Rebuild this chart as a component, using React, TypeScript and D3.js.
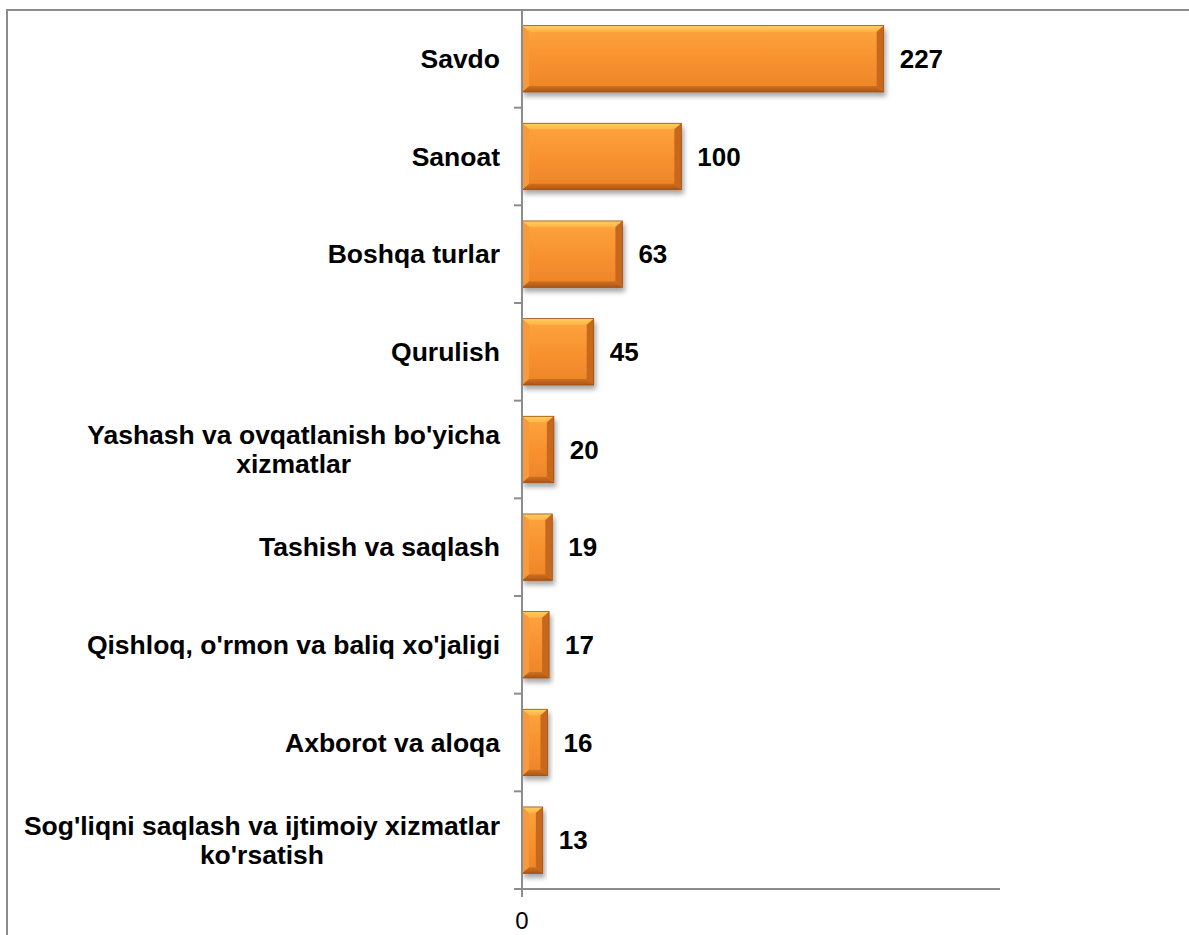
import React from "react";
import * as d3 from "d3";

const categories = [
  "Savdo",
  "Sanoat",
  "Boshqa turlar",
  "Qurulish",
  "Yashash va ovqatlanish bo'yicha|xizmatlar",
  "Tashish va saqlash",
  "Qishloq, o'rmon va baliq xo'jaligi",
  "Axborot va aloqa",
  "Sog'liqni saqlash va ijtimoiy xizmatlar|ko'rsatish",
];
const values = [227, 100, 63, 45, 20, 19, 17, 16, 13];
const xDomain = [0, 300];
const xTickLabels = [0];

const W = 1189;
const H = 935;
const left = 522;
const right = 1000;
const top = 10;
const bottom = 889;
const FONT = "Arial, 'Liberation Sans', sans-serif";
const FS = 26.5;

export default function App() {
  const x = d3.scaleLinear().domain(xDomain).range([left, right]);
  const y = d3
    .scaleBand<string>()
    .domain(categories)
    .range([top, bottom])
    .paddingInner(0.32)
    .paddingOuter(0.16);
  const step = y.step();
  const boundaries = d3.range(categories.length + 1).map((i) => top + i * step);

  return (
    <svg
      width={W}
      height={H}
      style={{ position: "absolute", left: 0, top: 0, background: "#fff" }}
      fontFamily={FONT}
    >
      <defs>
        <linearGradient id="face" x1="0" y1="0" x2="0" y2="1">
          <stop offset="0" stopColor="#FDA53F" />
          <stop offset="0.5" stopColor="#F8922F" />
          <stop offset="1" stopColor="#EC842A" />
        </linearGradient>
        <linearGradient id="topb" x1="0" y1="0" x2="0" y2="1">
          <stop offset="0" stopColor="#FFCE5E" />
          <stop offset="1" stopColor="#FFB44A" />
        </linearGradient>
        <linearGradient id="botb" x1="0" y1="0" x2="0" y2="1">
          <stop offset="0" stopColor="#D0701F" />
          <stop offset="1" stopColor="#A9561A" />
        </linearGradient>
        <filter id="shadow" x="-10%" y="-20%" width="130%" height="160%">
          <feGaussianBlur in="SourceAlpha" stdDeviation="2.5" />
          <feOffset dx="2" dy="4" result="b" />
          <feComponentTransfer>
            <feFuncA type="linear" slope="0.35" />
          </feComponentTransfer>
          <feMerge>
            <feMergeNode />
            <feMergeNode in="SourceGraphic" />
          </feMerge>
        </filter>
      </defs>

      {/* outer frame */}
      <rect x={7} y={10} width={1400} height={1200} fill="none" stroke="#8c8c8c" strokeWidth={2} />

      {/* bars */}
      {categories.map((c, i) => {
        const x0 = x(0);
        const x1 = x(values[i]);
        const y0 = y(c)!;
        const h = y.bandwidth();
        const y1 = y0 + h;
        const b = Math.min(7, (x1 - x0) / 3);
        const bv = 6;
        return (
          <g key={c} filter="url(#shadow)">
            <rect x={x0} y={y0} width={x1 - x0} height={h} fill="url(#face)" />
            <polygon
              points={`${x0},${y0} ${x1},${y0} ${x1 - b},${y0 + bv} ${x0 + b},${y0 + bv}`}
              fill="url(#topb)"
            />
            <polygon
              points={`${x0},${y1} ${x1},${y1} ${x1 - b},${y1 - bv} ${x0 + b},${y1 - bv}`}
              fill="url(#botb)"
            />
            <polygon
              points={`${x1},${y0} ${x1},${y1} ${x1 - b},${y1 - bv} ${x1 - b},${y0 + bv}`}
              fill="#C8681F"
            />
            <polygon
              points={`${x0},${y0} ${x0},${y1} ${x0 + b},${y1 - bv} ${x0 + b},${y0 + bv}`}
              fill="#F79A3A"
            />
            <rect x={x0} y={y0} width={x1 - x0} height={h} fill="none" stroke="#9A4E16" strokeWidth={0.8} />
          </g>
        );
      })}

      {/* axes */}
      <g stroke="#8c8c8c" strokeWidth={2}>
        <line x1={left} x2={left} y1={top} y2={bottom + 8} />
        <line x1={left - 8} x2={right} y1={bottom} y2={bottom} />
        {boundaries.map((b, i) => (
          <line key={i} x1={left - 8} x2={left} y1={b} y2={b} />
        ))}
      </g>

      {/* x tick labels */}
      {xTickLabels.map((t) => (
        <text key={t} x={x(t)} y={929} textAnchor="middle" fontSize={24} fill="#000">
          {t}
        </text>
      ))}

      {/* category labels */}
      {categories.map((c) => {
        const lines = c.split("|");
        const cy = y(c)! + y.bandwidth() / 2;
        const lh = 29;
        if (lines.length === 1) {
          return (
            <text key={c} x={500} y={cy + 9} textAnchor="end" fontSize={FS} fontWeight="bold" fill="#000">
              {c}
            </text>
          );
        }
        return (
          <text key={c} fontSize={FS} fontWeight="bold" fill="#000" textAnchor="middle">
            {lines.map((l, j) => (
              <tspan key={j} x={0} y={cy + 9 + (j - (lines.length - 1) / 2) * lh}>
                {l}
              </tspan>
            ))}
          </text>
        );
      })}

      {/* value labels */}
      {categories.map((c, i) => (
        <text
          key={c}
          x={x(values[i]) + 16}
          y={y(c)! + y.bandwidth() / 2 + 9}
          fontSize={26}
          fontWeight="bold"
          fill="#000"
        >
          {values[i]}
        </text>
      ))}
      <MultiLineFix />
    </svg>
  );
}

// Position multi-line labels: centered lines, block right-aligned at x=500
function MultiLineFix() {
  const ref = React.useRef<SVGGElement>(null);
  React.useEffect(() => {
    const svg = ref.current?.ownerSVGElement;
    if (!svg) return;
    svg.querySelectorAll("text").forEach((t) => {
      const spans = t.querySelectorAll("tspan");
      if (spans.length < 2) return;
      let maxW = 0;
      spans.forEach((s) => {
        maxW = Math.max(maxW, (s as SVGTextContentElement).getComputedTextLength());
      });
      const cx = 500 - maxW / 2;
      spans.forEach((s) => s.setAttribute("x", String(cx)));
    });
  }, []);
  return <g ref={ref} />;
}
